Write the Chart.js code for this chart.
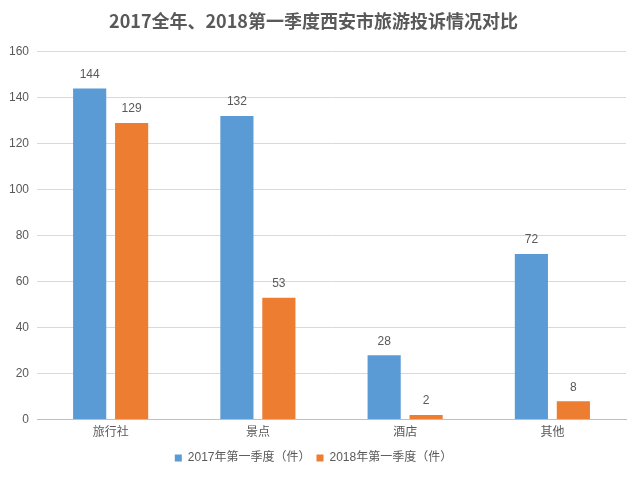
<!DOCTYPE html>
<html>
<head>
<meta charset="utf-8">
<script src="https://cdn.jsdelivr.net/npm/chart.js@4"></script>
<style>
    html, body { margin: 0; padding: 0; background: #fff; }
    #wrap { width: 640px; height: 481px; }
</style>
</head>
<body>
<div id="wrap"><canvas id="complaintChart" width="640" height="481"></canvas></div>
<script>
const categories = ['旅行社', '景点', '酒店', '其他'];
const series2017 = [144, 132, 28, 72];
const series2018 = [129, 53, 2, 8];
const seriesNames = ['2017年第一季度（件）', '2018年第一季度（件）'];
const yTicks = [0, 20, 40, 60, 80, 100, 120, 140, 160];

const FONT = '"Liberation Sans", "Noto Sans CJK SC", sans-serif';
const TEXT_COLOR = '#595959';

// draw the value above each bar
const barLabels = {
    id: 'barLabels',
    afterDatasetsDraw(chart) {
        const ctx = chart.ctx;
        ctx.save();
        ctx.font = '12px ' + FONT;
        ctx.fillStyle = TEXT_COLOR;
        ctx.textAlign = 'center';
        ctx.textBaseline = 'bottom';
        chart.data.datasets.forEach((ds, i) => {
            chart.getDatasetMeta(i).data.forEach((bar, j) => {
                ctx.fillText(ds.data[j], bar.x, bar.y - 8);
            });
        });
        ctx.restore();
    }
};

function initChart() {
    const ctx = document.getElementById('complaintChart').getContext('2d');
    new Chart(ctx, {
        type: 'bar',
        data: {
            labels: categories,
            datasets: [{
                label: seriesNames[0],
                data: series2017,
                backgroundColor: '#5b9bd5',
                categoryPercentage: 0.57,
                barPercentage: 0.79
            }, {
                label: seriesNames[1],
                data: series2018,
                backgroundColor: '#ed7d31',
                categoryPercentage: 0.57,
                barPercentage: 0.79
            }]
        },
        options: {
            responsive: false,
            animation: false,
            layout: { padding: { left: 1, right: 14, top: 4, bottom: 7 } },
            plugins: {
                title: {
                    display: true,
                    text: '2017全年、2018第一季度西安市旅游投诉情况对比',
                    color: TEXT_COLOR,
                    font: { family: '"Noto Sans CJK SC", sans-serif', size: 18, weight: 'bold' },
                    padding: { top: 6, bottom: 20 }
                },
                legend: {
                    position: 'bottom',
                    labels: {
                        color: TEXT_COLOR,
                        font: { family: FONT, size: 12 },
                        boxWidth: 7,
                        boxHeight: 7,
                        padding: 6
                    }
                },
                tooltip: { enabled: false }
            },
            scales: {
                x: {
                    grid: { display: false, drawTicks: false },
                    border: { color: '#bfbfbf', width: 1 },
                    ticks: { color: TEXT_COLOR, font: { family: FONT, size: 12 }, padding: 6 }
                },
                y: {
                    min: 0,
                    max: 160,
                    afterBuildTicks: axis => { axis.ticks = yTicks.map(v => ({ value: v })); },
                    grid: { color: '#d9d9d9', drawTicks: false },
                    border: { display: false },
                    ticks: { color: TEXT_COLOR, font: { family: FONT, size: 12 }, padding: 8 }
                }
            }
        },
        plugins: [barLabels]
    });
}

window.onload = initChart;
</script>
</body>
</html>
